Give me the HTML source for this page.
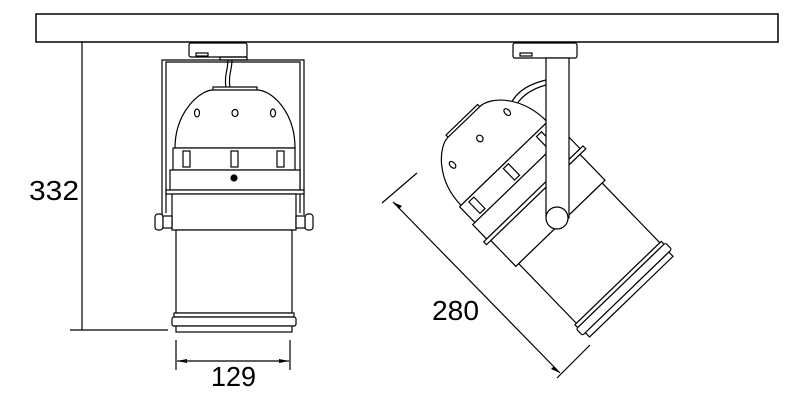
<!DOCTYPE html>
<html><head><meta charset="utf-8"><style>
html,body{margin:0;padding:0;background:#fff;width:800px;height:400px;overflow:hidden}
svg{display:block}
text{font-family:"Liberation Sans",sans-serif;font-size:28px;fill:#000}
</style></head><body>
<svg width="800" height="400" viewBox="0 0 800 400" fill="none" stroke="#000" stroke-width="1.2">
<defs>
<g id="lamp">
  <rect x="213" y="87" width="44" height="5" fill="#fff"/>
  <path d="M175,148 C175,112 200,90 213,90 L257,90 C272,90 295,112 295,148 Z" fill="#fff"/>
  <ellipse cx="197" cy="113" rx="2.5" ry="4"/>
  <ellipse cx="235" cy="113" rx="3" ry="3.5"/>
  <ellipse cx="273" cy="113" rx="2.5" ry="4"/>
  <rect x="173" y="148" width="122" height="22" fill="#fff"/>
  <rect x="183" y="151" width="7" height="16"/>
  <rect x="231" y="151" width="7" height="16"/>
  <rect x="277" y="151" width="7" height="16"/>
  <rect x="170" y="170" width="130" height="20" fill="#fff"/>
  <rect x="166" y="190" width="138" height="4" fill="#fff"/>
  <rect x="172" y="194" width="124" height="36" fill="#fff"/>
  <rect x="176" y="230" width="116" height="83" fill="#fff"/>
  <rect x="174" y="313" width="120" height="4" fill="#fff"/>
  <rect x="172" y="317" width="124" height="9" rx="2" fill="#fff"/>
  <rect x="176" y="326" width="116" height="6" fill="#fff"/>
</g>
</defs>

<rect x="36" y="14" width="742" height="28" stroke-width="1.5"/>

<rect x="189" y="43" width="58" height="14" rx="2"/>
<rect x="196" y="53" width="12" height="3"/>
<rect x="220" y="57" width="27" height="3"/>
<path d="M162,215 V60 H304 V215 M166,213 V62 H300 V213"/>
<path d="M228,60 C228,70 224,75 226,88 M232,60 C232,70 228,75 230,88"/>
<use href="#lamp"/>
<circle cx="234" cy="178" r="3" fill="#000"/>
<rect x="155" y="214" width="8" height="16" rx="3" fill="#fff"/>
<rect x="163" y="216" width="9" height="12" fill="#fff"/>
<rect x="305" y="214" width="8" height="16" rx="3" fill="#fff"/>
<rect x="296" y="216" width="9" height="12" fill="#fff"/>

<line x1="82" y1="42" x2="82" y2="330"/>
<line x1="70" y1="330" x2="168" y2="330"/>
<text x="29" y="200" textLength="50" lengthAdjust="spacingAndGlyphs" stroke="none">332</text>
<line x1="176" y1="340" x2="176" y2="370"/>
<line x1="290" y1="340" x2="290" y2="370"/>
<line x1="177" y1="361" x2="289" y2="361"/>
<path d="M177,361 l10,-2 v4 z M289,361 l-10,-2 v4 z" fill="#000" stroke="none"/>
<text x="211" y="386" textLength="45" lengthAdjust="spacingAndGlyphs" stroke="none">129</text>

<rect x="513" y="43" width="64" height="15" rx="2"/>
<rect x="520" y="53" width="12" height="3"/>
<path d="M546,80 C525,85 510,95 506,118 M546,85 C528,90 515,100 511,118"/>
<g transform="translate(632,296) rotate(-44) translate(-235,-332)">
  <use href="#lamp"/>
</g>
<rect x="546" y="58" width="23" height="160" fill="#fff"/>
<circle cx="557" cy="218" r="11" fill="#fff"/>

<line x1="382" y1="203" x2="417" y2="173"/>
<line x1="557" y1="378" x2="590" y2="345"/>
<line x1="393" y1="202" x2="560" y2="373"/>
<path d="M393,202 l9,4 l-3,3 z M560,373 l-9,-4 l3,-3 z" fill="#000" stroke="none"/>
<text x="432" y="320" textLength="47" lengthAdjust="spacingAndGlyphs" stroke="none">280</text>
</svg>
</body></html>
